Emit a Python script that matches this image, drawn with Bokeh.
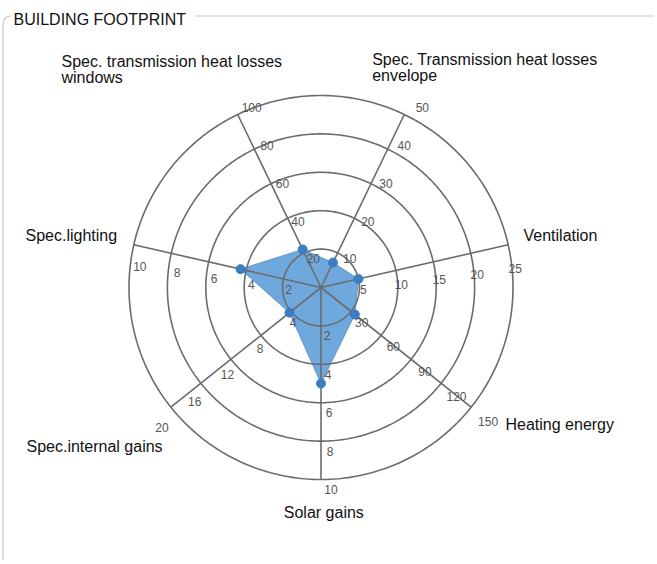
import numpy as np
from bokeh.plotting import figure
from bokeh.models import Range1d
from bokeh.embed import file_html
from bokeh.resources import INLINE
from bokeh.core.properties import value

# ---------------- data ----------------
chart_title = "BUILDING FOOTPRINT"
categories = [
    "Spec. transmission heat losses\nwindows",
    "Spec. Transmission heat losses\nenvelope",
    "Ventilation",
    "Heating energy",
    "Solar gains",
    "Spec.internal gains",
    "Spec.lighting",
]
axis_max = [100, 50, 25, 150, 10, 20, 10]
values = [22, 7.2, 5.0, 33.8, 5.0, 4.2, 4.3]
tick_labels = [
    ["20", "40", "60", "80", "100"],
    ["10", "20", "30", "40", "50"],
    ["5", "10", "15", "20", "25"],
    ["30", "60", "90", "120", "150"],
    ["2", "4", "6", "8", "10"],
    ["4", "8", "12", "16", "20"],
    ["2", "4", "6", "8", "10"],
]

# ---------------- layout / style ----------------
CX, CY, R = 321.5, 288.0, 192.0
N = len(categories)
angles = np.deg2rad(90 + 180 / N - np.arange(N) * 360 / N)

FONT = "Liberation Sans"
GRID_COLOR = "#6b6b6b"
FILL_COLOR = "#6fa8dc"
MARK_COLOR = "#3b7dc0"
FRAME_COLOR = "#c8c8c8"

# tick-label offsets (inner ring, outer ring) per axis, in px
off_in = [(9, 6), (12, 6), (5, 11), (10.7, 10.7), (6, 10), (2, 11), (5, 11)]
off_out = [(14, -7), (18, -7), (7, 24), (17, 14), (10, 10), (-9, 20), (6, 22)]
# axis-title anchors (left x, middle y of first line)
title_pos = [(62, 61.5), (372.7, 60), (524, 235.7), (506, 425), (284.3, 513), (27, 447), (26, 235.7)]
LINE_STEP = 16

X0, Y0 = 1, 1  # page position of the canvas origin
W, H = 654, 560
p = figure(width=W, height=H, x_range=Range1d(X0, X0 + W), y_range=Range1d(Y0 + H, Y0),
           output_backend="svg", toolbar_location=None, x_axis_type=None, y_axis_type=None,
           min_border=0, outline_line_color=None, background_fill_color="white",
           border_fill_color="white")
p.grid.visible = False


def to_xy(frac, ang):
    return CX + frac * R * np.cos(ang), CY - frac * R * np.sin(ang)


# data polygon
fr = np.array(values) / np.array(axis_max)
px, py = to_xy(fr, angles)
p.patch(list(px), list(py), fill_color=FILL_COLOR, fill_alpha=1.0, line_color="#5e9ad2", line_width=1)

# rings
n_rings = len(tick_labels[0])
t = np.linspace(0, 2 * np.pi, 361)
ring_xs, ring_ys = [], []
for k in range(1, n_rings + 1):
    rx, ry = to_xy(k / n_rings, t)
    ring_xs.append(list(rx))
    ring_ys.append(list(ry))
p.multi_line(ring_xs, ring_ys, line_color=GRID_COLOR, line_width=1.6)

# spokes
sx, sy = to_xy(1.0, angles)
p.multi_line([[CX, x] for x in sx], [[CY, y] for y in sy], line_color=GRID_COLOR, line_width=1.6)

# markers
p.scatter(list(px), list(py), size=9, fill_color=MARK_COLOR, line_color=MARK_COLOR)

# tick labels
tx, ty, tt = [], [], []
for i in range(N):
    for k, lab in enumerate(tick_labels[i]):
        f = float(lab) / axis_max[i]
        x0, y0 = to_xy(f, angles[i])
        w = k / (n_rings - 1)
        dx = off_in[i][0] + (off_out[i][0] - off_in[i][0]) * w
        dy = off_in[i][1] + (off_out[i][1] - off_in[i][1]) * w
        tx.append(x0 + dx)
        ty.append(y0 + dy)
        tt.append(lab)
p.text(x=tx, y=ty, text=tt, text_font=value(FONT), text_font_size="12px",
       text_color="#555555", text_align="center", text_baseline="middle")

# axis titles
ax_x, ax_y, ax_t = [], [], []
for i, cat in enumerate(categories):
    for j, line in enumerate(cat.split("\n")):
        ax_x.append(title_pos[i][0])
        ax_y.append(title_pos[i][1] + j * LINE_STEP)
        ax_t.append(line)
p.text(x=ax_x, y=ax_y, text=ax_t, text_font=value(FONT), text_font_size="16px",
       text_color="#111111", text_align="left", text_baseline="middle")

# group-box frame and title
p.line([196, 655.5, 655.5], [16.5, 16.5, Y0 + H], line_color=FRAME_COLOR, line_width=1.2)
p.line([11, 7, 4, 3.5, 3.5], [16.5, 17.5, 21, 25, Y0 + H], line_color=FRAME_COLOR, line_width=1.2)
p.text(x=[14], y=[19.5], text=[chart_title], text_font=value(FONT), text_font_size="16px",
       text_color="#111111", text_align="left", text_baseline="middle")

open("out.html", "w").write(file_html(p, INLINE))
